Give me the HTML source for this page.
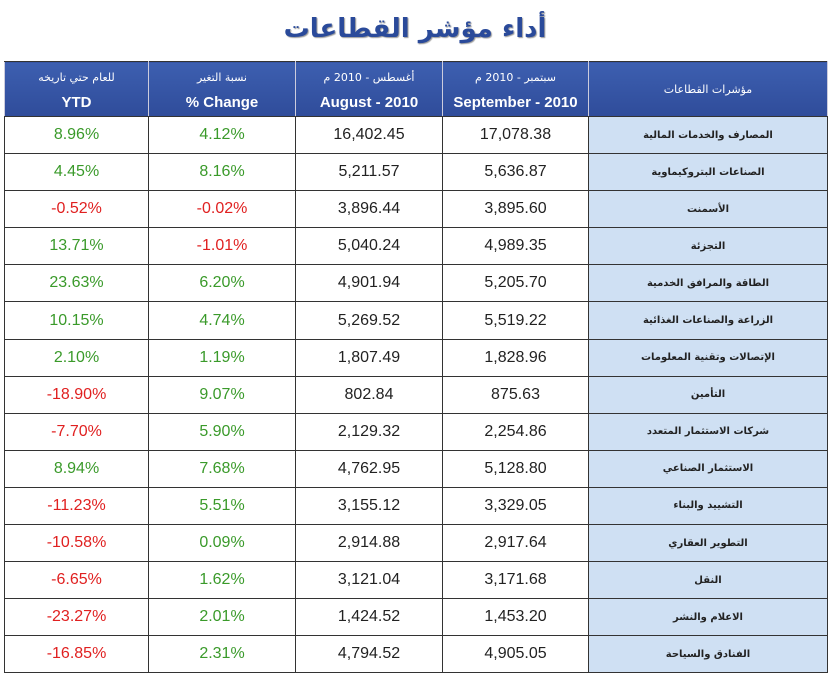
<!DOCTYPE html>
<html><head><meta charset="utf-8"><style>
body{margin:0;width:830px;height:675px;background:#fff;overflow:hidden;font-family:"Liberation Sans",Arial,sans-serif}
.t{position:absolute;top:14px;left:0;width:830px;text-align:center;font-size:26px;font-weight:bold;color:#2a4a9a;font-family:"DejaVu Sans",sans-serif;text-shadow:1px 1px 1px #999}
table{position:absolute;left:4px;top:61px;width:823px;border-collapse:collapse;table-layout:fixed}
td{border:1px solid #333;height:36.1px;text-align:center;font-size:16px;padding:0;font-family:"Liberation Sans",Arial,sans-serif}
th{background:linear-gradient(#3d5fb0,#2f4c9a);color:#fff;border:1px solid #333;border-left:1px solid #ccd;border-right:1px solid #ccd;height:54px;font-size:15px;font-weight:bold;padding:0;line-height:25px;font-family:"Liberation Sans",Arial,sans-serif}
th small{font-size:11px;font-weight:normal;font-family:"DejaVu Sans",sans-serif}
td.n{background:#cfe0f3;font-size:10px;font-family:"DejaVu Sans",sans-serif;font-weight:bold;color:#222}
.g{color:#3a9a2a}.r{color:#e02020}.k{color:#222}
</style></head><body>
<div class="t">أداء مؤشر القطاعات</div>
<table>
<colgroup><col style="width:144px"><col style="width:147px"><col style="width:147px"><col style="width:146px"><col style="width:239px"></colgroup>
<tr><th><small>للعام حتي تاريخه</small><br>YTD</th><th><small>نسبة التغير</small><br>% Change</th><th><small>أغسطس - 2010 م</small><br>August - 2010</th><th><small>سبتمبر - 2010 م</small><br>September - 2010</th><th><small>مؤشرات القطاعات</small></th></tr>
<tr><td class="g">8.96%</td><td class="g">4.12%</td><td class="k">16,402.45</td><td class="k">17,078.38</td><td class="n">المصارف والخدمات المالية</td></tr>
<tr><td class="g">4.45%</td><td class="g">8.16%</td><td class="k">5,211.57</td><td class="k">5,636.87</td><td class="n">الصناعات البتروكيماوية</td></tr>
<tr><td class="r">-0.52%</td><td class="r">-0.02%</td><td class="k">3,896.44</td><td class="k">3,895.60</td><td class="n">الأسمنت</td></tr>
<tr><td class="g">13.71%</td><td class="r">-1.01%</td><td class="k">5,040.24</td><td class="k">4,989.35</td><td class="n">التجزئة</td></tr>
<tr><td class="g">23.63%</td><td class="g">6.20%</td><td class="k">4,901.94</td><td class="k">5,205.70</td><td class="n">الطاقة والمرافق الخدمية</td></tr>
<tr><td class="g">10.15%</td><td class="g">4.74%</td><td class="k">5,269.52</td><td class="k">5,519.22</td><td class="n">الزراعة والصناعات الغذائية</td></tr>
<tr><td class="g">2.10%</td><td class="g">1.19%</td><td class="k">1,807.49</td><td class="k">1,828.96</td><td class="n">الإتصالات وتقنية المعلومات</td></tr>
<tr><td class="r">-18.90%</td><td class="g">9.07%</td><td class="k">802.84</td><td class="k">875.63</td><td class="n">التأمين</td></tr>
<tr><td class="r">-7.70%</td><td class="g">5.90%</td><td class="k">2,129.32</td><td class="k">2,254.86</td><td class="n">شركات الاستثمار المتعدد</td></tr>
<tr><td class="g">8.94%</td><td class="g">7.68%</td><td class="k">4,762.95</td><td class="k">5,128.80</td><td class="n">الاستثمار الصناعي</td></tr>
<tr><td class="r">-11.23%</td><td class="g">5.51%</td><td class="k">3,155.12</td><td class="k">3,329.05</td><td class="n">التشييد والبناء</td></tr>
<tr><td class="r">-10.58%</td><td class="g">0.09%</td><td class="k">2,914.88</td><td class="k">2,917.64</td><td class="n">التطوير العقاري</td></tr>
<tr><td class="r">-6.65%</td><td class="g">1.62%</td><td class="k">3,121.04</td><td class="k">3,171.68</td><td class="n">النقل</td></tr>
<tr><td class="r">-23.27%</td><td class="g">2.01%</td><td class="k">1,424.52</td><td class="k">1,453.20</td><td class="n">الاعلام والنشر</td></tr>
<tr><td class="r">-16.85%</td><td class="g">2.31%</td><td class="k">4,794.52</td><td class="k">4,905.05</td><td class="n">الفنادق والسياحة</td></tr>
</table>
</body></html>
